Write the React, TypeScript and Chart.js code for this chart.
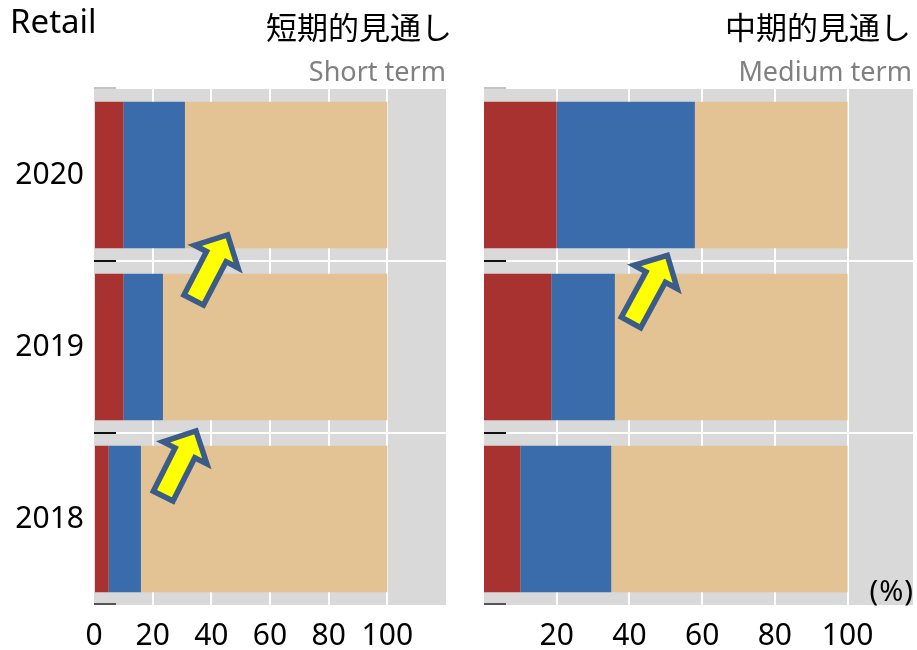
import { useEffect, useRef } from "react";
import { Chart, registerables } from "chart.js";

Chart.register(...registerables);

// ---- data ----
const years = ["2020", "2019", "2018"];
const seriesNames = ["Increase", "Unchanged", "Decrease"];
const shortRed = [10, 10, 5];
const shortBlue = [21, 13.5, 11];
const shortTan = [69, 76.5, 84];
const mediumRed = [20, 18.5, 10];
const mediumBlue = [38, 17.5, 25];
const mediumTan = [42, 64, 65];
const shortTickValues = [0, 20, 40, 60, 80, 100];
const mediumTickValues = [20, 40, 60, 80, 100];
const shortMax = 120;
const mediumMax = 118;

// arrow annotations: [x value, category index position]
const shortArrows = [
  { from: [33.6, 0.74], to: [46.1, 0.33] },
  { from: [23.2, 1.88], to: [35.3, 1.47] },
];
const mediumArrows = [{ from: [40.1, 0.87], to: [50.9, 0.45] }];

const COLORS = ["#a8322f", "#3a6bab", "#e3c393"];
const GREY = "#d9d9d9";
const FONT = '"Noto Sans", "Noto Sans CJK JP", sans-serif';

function makePlugins(arrows: { from: number[]; to: number[] }[]) {
  return [
    {
      id: "bgPanel",
      beforeDraw(chart: any) {
        const { ctx, chartArea: a } = chart;
        ctx.save();
        ctx.fillStyle = GREY;
        ctx.fillRect(a.left, a.top, a.right - a.left, a.bottom - a.top);
        ctx.restore();
      },
    },
    {
      id: "arrows",
      afterDatasetsDraw(chart: any) {
        const { ctx } = chart;
        const xs = chart.scales.x;
        const ys = chart.scales.y;
        arrows.forEach((ar) => {
          const x0 = xs.getPixelForValue(ar.from[0]);
          const y0 = ys.getPixelForValue(ar.from[1]);
          const x1 = xs.getPixelForValue(ar.to[0]);
          const y1 = ys.getPixelForValue(ar.to[1]);
          const dx = x1 - x0;
          const dy = y1 - y0;
          const len = Math.hypot(dx, dy);
          const ux = dx / len;
          const uy = dy / len;
          const nx = -uy;
          const ny = ux;
          const tipX = x1 - ux * 3.5;
          const tipY = y1 - uy * 3.5;
          const tailX = x0 + ux * 2.5;
          const tailY = y0 + uy * 2.5;
          const head = 24.5;
          const headHalf = 24.5;
          const shaftHalf = 11;
          const bx = tipX - ux * head;
          const by = tipY - uy * head;
          const pts = [
            [tipX, tipY],
            [bx + nx * headHalf, by + ny * headHalf],
            [bx + nx * shaftHalf, by + ny * shaftHalf],
            [tailX + nx * shaftHalf, tailY + ny * shaftHalf],
            [tailX - nx * shaftHalf, tailY - ny * shaftHalf],
            [bx - nx * shaftHalf, by - ny * shaftHalf],
            [bx - nx * headHalf, by - ny * headHalf],
          ];
          ctx.save();
          ctx.beginPath();
          pts.forEach((p, i) => (i === 0 ? ctx.moveTo(p[0], p[1]) : ctx.lineTo(p[0], p[1])));
          ctx.closePath();
          ctx.fillStyle = "#ffff00";
          ctx.fill();
          ctx.lineWidth = 5.5;
          ctx.lineJoin = "miter";
          ctx.strokeStyle = "#3b5b88";
          ctx.stroke();
          ctx.restore();
        });
      },
    },
    {
      id: "edgeMarks",
      afterDraw(chart: any) {
        const { ctx, chartArea: a } = chart;
        const ys = chart.scales.y;
        const n = years.length;
        const cols = ["#c4c4c4", "#111111", "#111111", "#555555"];
        ctx.save();
        ctx.lineWidth = 2;
        for (let i = 0; i <= n; i++) {
          let y = ys.getPixelForValue(i - 0.5);
          if (i === 0) y -= 1;
          if (i === n) y -= 1;
          ctx.strokeStyle = cols[i];
          ctx.beginPath();
          ctx.moveTo(a.left, y);
          ctx.lineTo(a.left + 22, y);
          ctx.stroke();
        }
        ctx.restore();
      },
    },
  ];
}

function makeConfig(
  red: number[],
  blue: number[],
  tan: number[],
  tickValues: number[],
  max: number,
  showY: boolean,
  yWidth: number,
  padRight: number,
  arrows: { from: number[]; to: number[] }[]
): any {
  return {
    type: "bar",
    data: {
      labels: years,
      datasets: [red, blue, tan].map((d, i) => ({
        label: seriesNames[i],
        data: d,
        backgroundColor: COLORS[i],
        borderWidth: 0,
        categoryPercentage: 0.853,
        barPercentage: 1.0,
      })),
    },
    options: {
      indexAxis: "y",
      responsive: false,
      animation: false,
      layout: { padding: { top: 89, right: padRight, left: 0, bottom: 0 } },
      plugins: { legend: { display: false }, tooltip: { enabled: false }, title: { display: false } },
      scales: {
        x: {
          type: "linear",
          stacked: true,
          min: 0,
          max,
          afterBuildTicks: (s: any) => {
            s.ticks = tickValues.map((v) => ({ value: v }));
          },
          afterFit: (s: any) => {
            s.height = 45;
          },
          border: { display: false },
          grid: {
            drawTicks: false,
            lineWidth: 2,
            color: (c: any) => (c.tick && c.tick.value > 0 && c.tick.value <= 100 ? "#ffffff" : "rgba(0,0,0,0)"),
          },
          ticks: {
            padding: 13,
            color: "#000000",
            font: { family: FONT, size: 30 },
            maxRotation: 0,
            autoSkip: false,
          },
        },
        y: {
          type: "category",
          stacked: true,
          afterFit: (s: any) => {
            s.width = yWidth;
          },
          border: { display: false },
          grid: {
            offset: true,
            drawTicks: false,
            lineWidth: 2,
            color: (c: any) => (c.index === 1 || c.index === 2 ? "#ffffff" : "rgba(0,0,0,0)"),
          },
          ticks: {
            display: showY,
            padding: 10,
            color: "#000000",
            font: { family: FONT, size: 30 },
          },
        },
      },
    },
    plugins: makePlugins(arrows),
  };
}

export default function App() {
  const leftRef = useRef<HTMLCanvasElement>(null);
  const rightRef = useRef<HTMLCanvasElement>(null);

  useEffect(() => {
    const c1 = new Chart(
      leftRef.current as HTMLCanvasElement,
      makeConfig(shortRed, shortBlue, shortTan, shortTickValues, shortMax, true, 94, 12, shortArrows)
    );
    const c2 = new Chart(
      rightRef.current as HTMLCanvasElement,
      makeConfig(mediumRed, mediumBlue, mediumTan, mediumTickValues, mediumMax, false, 26, 4, mediumArrows)
    );
    return () => {
      c1.destroy();
      c2.destroy();
    };
  }, []);

  const txt = (extra: any) => ({
    position: "absolute" as const,
    whiteSpace: "nowrap" as const,
    fontFamily: FONT,
    ...extra,
  });

  return (
    <div style={{ position: "absolute", left: 0, top: 0, width: 917, height: 650, background: "#fff", overflow: "hidden" }}>
      <canvas ref={leftRef} width={458} height={650} style={{ position: "absolute", left: 0, top: 0, width: 458, height: 650 }} />
      <canvas ref={rightRef} width={459} height={650} style={{ position: "absolute", left: 458, top: 0, width: 459, height: 650 }} />
      <div style={txt({ left: 10, top: 4, fontSize: 33, lineHeight: "33px", color: "#000" })}>Retail</div>
      <div style={txt({ right: 465, top: 10, fontSize: 31, lineHeight: "31px", color: "#000", fontFamily: '"Noto Sans CJK JP", sans-serif' })}>短期的見通し</div>
      <div style={txt({ right: 471, top: 57, fontSize: 27, lineHeight: "27px", color: "#808080" })}>Short term</div>
      <div style={txt({ right: 6, top: 10, fontSize: 31, lineHeight: "31px", color: "#000", fontFamily: '"Noto Sans CJK JP", sans-serif' })}>中期的見通し</div>
      <div style={txt({ right: 5, top: 57, fontSize: 27, lineHeight: "27px", color: "#808080" })}>Medium term</div>
      <div style={txt({ right: 3, top: 575, fontSize: 29, lineHeight: "29px", color: "#000", letterSpacing: 1 })}>(%)</div>
    </div>
  );
}
